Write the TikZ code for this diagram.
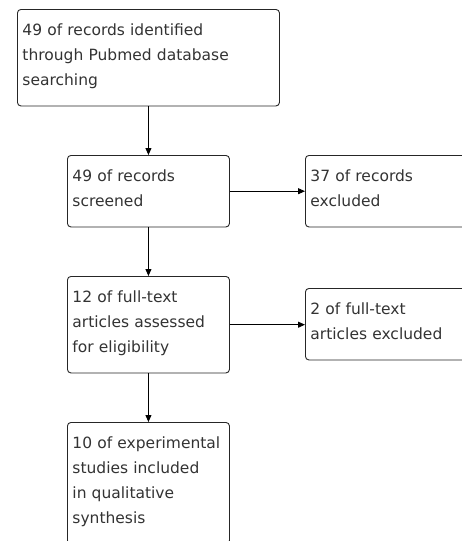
\documentclass[tikz,border=0pt]{standalone}
\usepackage{fontspec}
\setmainfont{DejaVu Sans}
\usetikzlibrary{arrows.meta}

\begin{document}
\begin{tikzpicture}[x=1pt,y=-1pt,>={Triangle[length=7pt,width=6pt]},
  box/.style={draw=black!85,line width=0.9pt,rounded corners=3.5pt,fill=white,anchor=north west,
    align=left,text width=152pt,inner xsep=5pt,inner ysep=0pt,text height=26pt,text depth=#1,
    font=\fontsize{15.5}{25}\selectfont,text=black!80},
  box/.default=45.5pt]
\useasboundingbox (0,0) rectangle (462,541);
\fill[white] (0,0) rectangle (462,541);
\clip (0,0) rectangle (462,541);
\node[box=70.5pt,text width=252pt] (ident) at (17,9) {49 of records identified\\through Pubmed database\\searching};
\node[box] (screen) at (67,155) {49 of records\\screened};
\node[box] (excl1) at (305,155) {37 of records\\excluded};
\node[box=70.5pt] (assess) at (67,276) {12 of full-text\\articles assessed\\for eligibility};
\node[box] (excl2) at (305,288) {2 of full-text\\articles excluded};
\node[box=95.5pt] (incl) at (67,422) {10 of experimental\\studies included\\in qualitative\\synthesis};
\draw[->,line width=0.9pt] (ident) -- (screen);
\draw[->,line width=0.9pt] (screen) -- (assess);
\draw[->,line width=0.9pt] (assess) -- (incl);
\draw[->,line width=0.9pt] (screen) -- (excl1);
\draw[->,line width=0.9pt] (assess) -- (assess -| excl2.west);
\end{tikzpicture}
\end{document}
